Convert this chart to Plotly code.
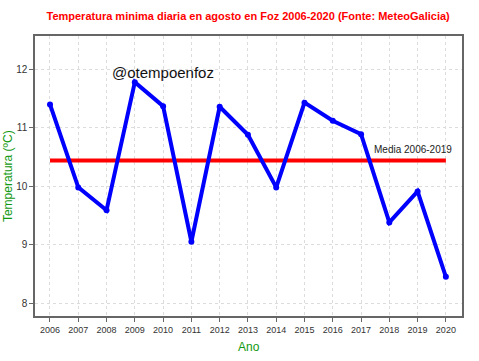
import plotly.graph_objects as go

years = list(range(2006, 2021))
temps = [11.40, 9.98, 9.59, 11.78, 11.37, 9.05, 11.36, 10.88, 9.98, 11.43, 11.12, 10.89, 9.38, 9.91, 8.45]
mean_value = 10.44
mean_label = "Media 2006-2019"
yticks = [8, 9, 10, 11, 12]

F = "Liberation Sans, Arial"
fig = go.Figure()
fig.add_trace(go.Scatter(x=[years[0], years[-1]], y=[mean_value, mean_value], mode="lines",
                         line=dict(color="#ff0000", width=4), showlegend=False, hoverinfo="skip"))
fig.add_trace(go.Scatter(x=years, y=temps, mode="lines+markers",
                         line=dict(color="#0000ff", width=4),
                         marker=dict(color="#0000ff", size=6),
                         showlegend=False))

fig.add_annotation(x=2010, y=11.94, text="@otempoenfoz", showarrow=False,
                   font=dict(family=F, size=15, color="#111111"))
fig.add_annotation(x=2020.3, y=mean_value, text=mean_label, showarrow=False,
                   xanchor="right", yanchor="bottom", yshift=4,
                   font=dict(family=F, size=10, color="#222222"))
fig.add_annotation(xref="paper", yref="paper", x=-0.063, y=0.5, text="Temperatura (ºC)",
                   textangle=-90, showarrow=False, xanchor="center", yanchor="middle",
                   font=dict(family=F, size=12, color="#119911"))
fig.add_annotation(xref="paper", yref="paper", x=0.5, y=-0.11, text="Ano",
                   showarrow=False, xanchor="center", yanchor="middle",
                   font=dict(family=F, size=12, color="#119911"))

fig.update_layout(
    width=479, height=361,
    margin=dict(l=35, r=17, t=36, b=45),
    paper_bgcolor="white", plot_bgcolor="white",
    title=dict(text="<b>Temperatura minima diaria en agosto en Foz 2006-2020 (Fonte: MeteoGalicia)</b>",
               x=0.518, xanchor="center", y=0.955, yanchor="middle",
               font=dict(family=F, size=11, color="#ff0000")),
    xaxis=dict(range=[2005.47, 2020.57], tickvals=years, ticktext=[str(y) for y in years],
               automargin=False,
               showgrid=True, gridcolor="#dcdcdc", griddash="dot", gridwidth=1,
               showline=True, linecolor="#666666", linewidth=1.5, mirror=True,
               ticks="outside", ticklen=4, tickcolor="#666666", zeroline=False,
               tickfont=dict(family=F, size=9, color="#333333")),
    yaxis=dict(range=[7.78, 12.57], tickvals=yticks, automargin=False,
               showgrid=True, gridcolor="#dcdcdc", griddash="dot", gridwidth=1,
               showline=True, linecolor="#666666", linewidth=1.5, mirror=True,
               ticks="outside", ticklen=4, tickcolor="#666666", zeroline=False,
               tickfont=dict(family=F, size=10, color="#333333")),
)

fig.write_html("out.html", config={"displayModeBar": False},
               post_script="document.body.style.margin='0';document.body.style.overflow='hidden';")
